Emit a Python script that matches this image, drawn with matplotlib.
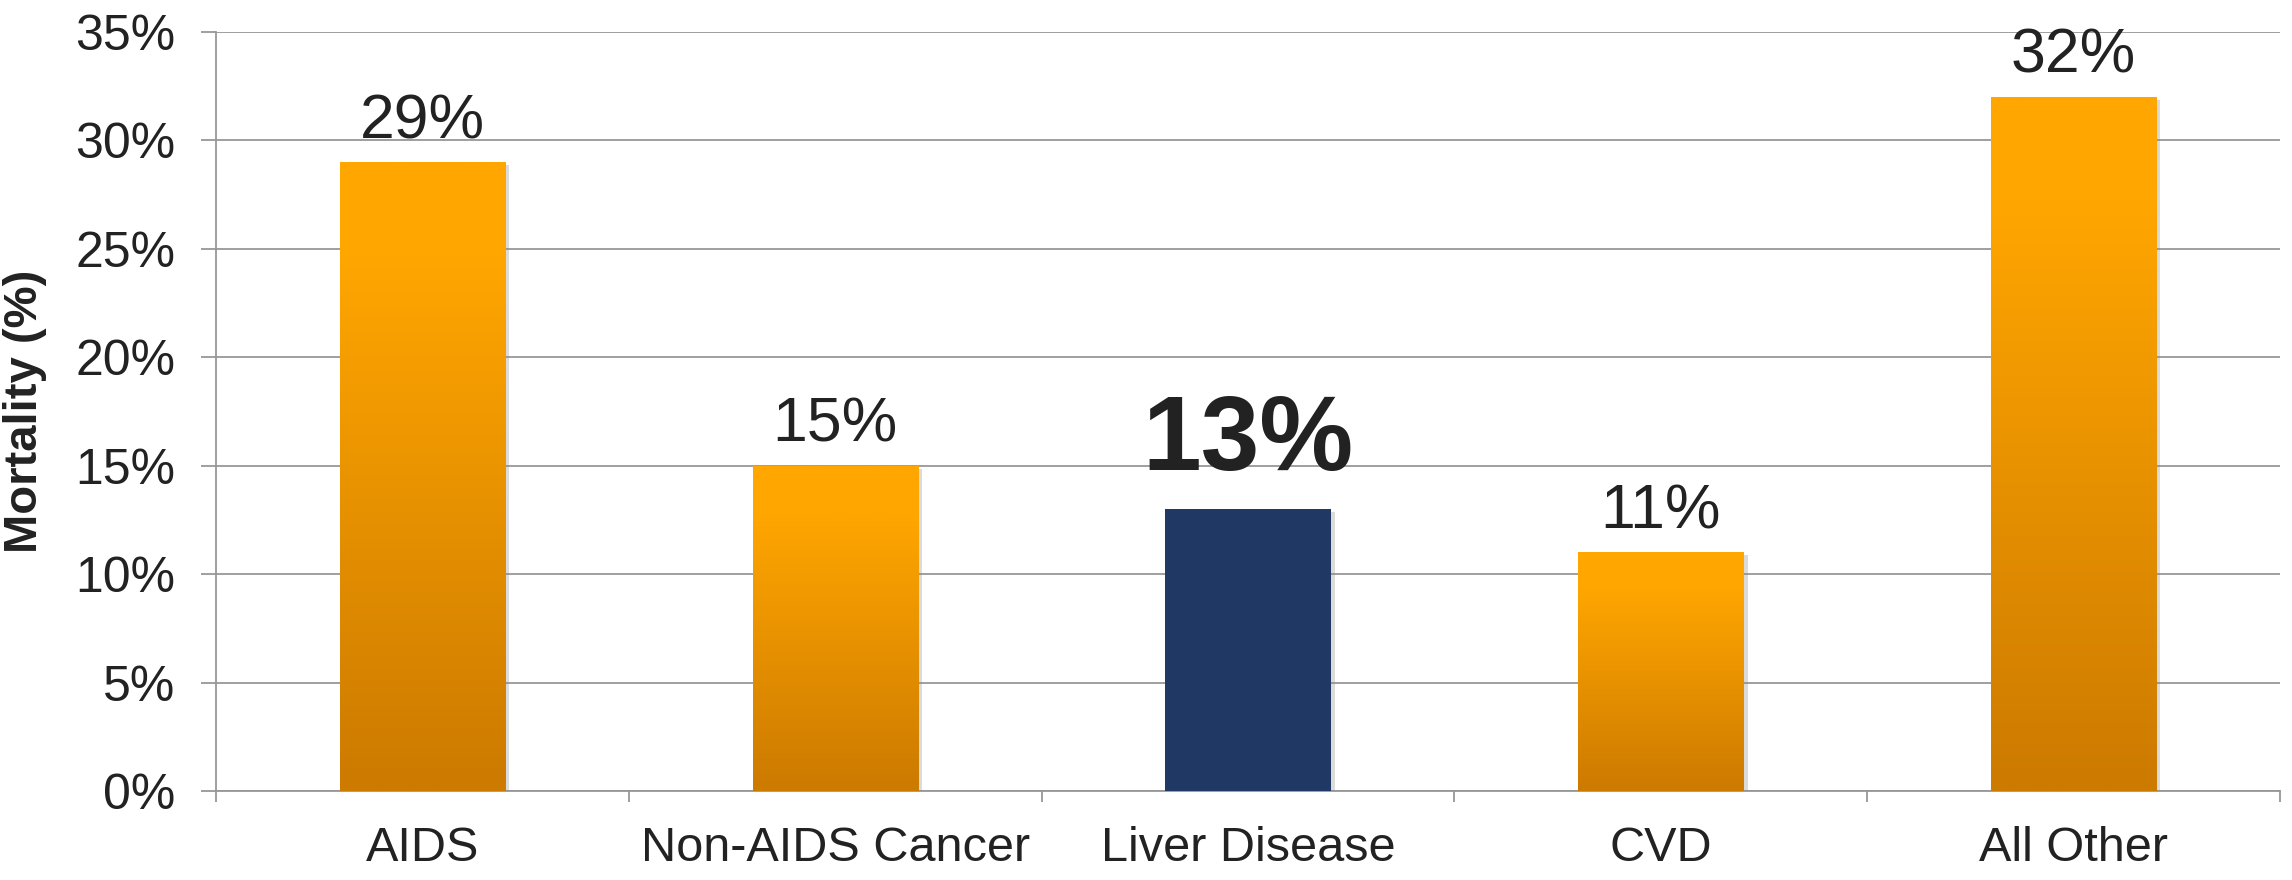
import matplotlib
matplotlib.use("Agg")
from matplotlib import pyplot as plt
from matplotlib import patheffects
from matplotlib.ticker import FixedLocator
import numpy as np

plt.rcParams['font.family'] = ['Liberation Sans', 'DejaVu Sans']

categories = ["AIDS", "Non-AIDS Cancer", "Liver Disease", "CVD", "All Other"]
mortality = [29, 15, 13, 11, 32]
highlight = "Liver Disease"
y_ticks = [0, 5, 10, 15, 20, 25, 30, 35]

text_col = '#222222'
grid_col = '#979797'
navy = '#1F3864'

fig = plt.figure(figsize=(22.92, 8.8), dpi=100)
ax = fig.add_axes([0.0942, 0.1011, 0.9006, 0.8625])

x = np.arange(len(categories))

# gradient used for the orange bars (top bright, bottom darker)
top_rgb = np.array([255, 166, 0]) / 255.0
bot_rgb = np.array([204, 122, 0]) / 255.0
t = np.linspace(0, 1, 256)
t = np.clip((t - 0.15) / 0.85, 0, 1)
grad = top_rgb[None, :] * (1 - t[:, None]) + bot_rgb[None, :] * t[:, None]
grad = grad[:, None, :]

shadow = [patheffects.SimplePatchShadow(offset=(3, -2), shadow_rgbFace='#888888', alpha=0.3),
          patheffects.Normal()]

bars = ax.bar(x, mortality, width=0.40, zorder=3)
for cat, rect, val in zip(categories, bars, mortality):
    rect.set_path_effects(shadow)
    xc = rect.get_x() + rect.get_width() / 2
    if cat == highlight:
        rect.set_facecolor(navy)
        ax.annotate(f"{val}%", (xc, val), xytext=(0, 12), textcoords='offset points',
                    ha='center', va='bottom', fontsize=76, fontweight='bold',
                    color=text_col, zorder=5)
    else:
        rect.set_facecolor((1.0, 0.65, 0.0))
        x0 = rect.get_x()
        im = ax.imshow(grad, extent=(x0, x0 + rect.get_width(), 0, val),
                       aspect='auto', origin='upper', zorder=4, interpolation='bilinear')
        im.set_clip_path(rect)
        ax.annotate(f"{val}%", (xc, val), xytext=(0, 8), textcoords='offset points',
                    ha='center', va='bottom', fontsize=45, color=text_col, zorder=5)

ax.set_xlim(-0.5, len(categories) - 0.5)
ax.set_ylim(0, 35)

ax.set_yticks(y_ticks)
ax.set_yticklabels([f"{v}%" for v in y_ticks])
ax.set_xticks(x)
ax.set_xticklabels(categories)
ax.xaxis.set_minor_locator(FixedLocator(np.arange(-0.5, len(categories), 1.0)))

ax.tick_params(axis='y', length=11, width=1.3, color=grid_col, pad=18,
               labelsize=36, labelcolor=text_col)
ax.tick_params(axis='x', which='major', length=0, pad=25, labelsize=35, labelcolor=text_col)
ax.tick_params(axis='x', which='minor', length=8, width=1.3, color=grid_col)

ax.yaxis.grid(True, color=grid_col, linewidth=1.3, zorder=0)
ax.set_axisbelow(True)

for s in ['top', 'right']:
    ax.spines[s].set_visible(False)
for s in ['left', 'bottom']:
    ax.spines[s].set_color(grid_col)
    ax.spines[s].set_linewidth(1.3)

ax.set_ylabel("Mortality (%)", fontsize=34, fontweight='bold', color=text_col)
ax.yaxis.set_label_coords(-0.082, 0.5)

fig.savefig("out.png", dpi=100)
